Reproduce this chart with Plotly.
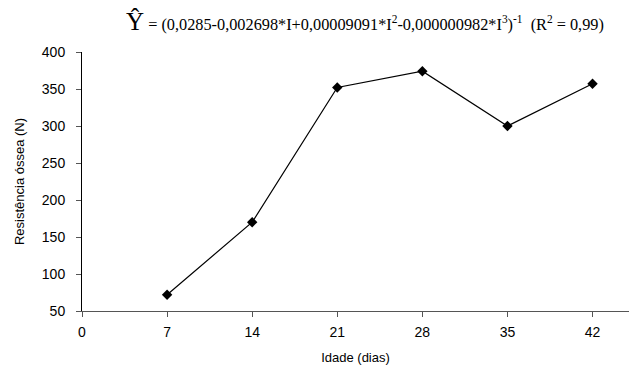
import plotly.graph_objects as go

idade = [7, 14, 21, 28, 35, 42]
resistencia = [72, 170, 352, 374, 300, 357]
x_ticks = [0, 7, 14, 21, 28, 35, 42]
y_ticks = [50, 100, 150, 200, 250, 300, 350, 400]

fig = go.Figure()
fig.add_trace(go.Scatter(
    x=idade, y=resistencia, mode="lines+markers",
    line=dict(color="black", width=1.2),
    marker=dict(symbol="diamond", size=8, color="black"),
    showlegend=False,
))

font_sans = "Liberation Sans, Arial, sans-serif"

fig.update_layout(
    width=629, height=371,
    margin=dict(l=82, r=0, t=52, b=60),
    paper_bgcolor="white", plot_bgcolor="white",
    font=dict(family=font_sans, color="black"),
    xaxis=dict(
        range=[0, 45], tickvals=x_ticks, ticktext=[str(v) for v in x_ticks],
        showgrid=False, zeroline=False, showline=True, linecolor="#555", linewidth=1,
        ticks="outside", ticklen=5, tickcolor="#555", ticklabelstandoff=3,
        tickfont=dict(size=14, family=font_sans),
        title=dict(text="Idade (dias)", font=dict(size=13, family=font_sans), standoff=14),
    ),
    yaxis=dict(
        range=[50, 400], tickvals=y_ticks, ticktext=[str(v) for v in y_ticks],
        showgrid=False, zeroline=False, showline=True, linecolor="black", linewidth=1,
        ticks="outside", ticklen=5, tickcolor="#555", ticklabelstandoff=8,
        tickfont=dict(size=14, family=font_sans),
        title=dict(text="Resistência óssea (N)", font=dict(size=13, family=font_sans), standoff=14),
    ),
)

title_html = ("<span style='font-size:25px'>Ŷ</span> = (0,0285-0,002698*I+0,00009091*I<sup>2</sup>"
              "-0,000000982*I<sup>3</sup>)<sup>-1</sup>  (R<sup>2</sup> = 0,99)")
fig.add_annotation(
    text=title_html, xref="paper", yref="paper", x=0.517, y=1.0, yshift=31,
    xanchor="center", yanchor="middle", showarrow=False,
    font=dict(family="Liberation Serif, Times New Roman, serif", size=16.3, color="black"),
)

fig.write_html("out.html")
